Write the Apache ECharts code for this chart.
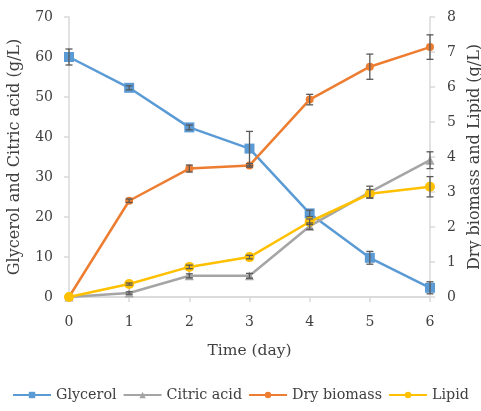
<!DOCTYPE html>
<html>
<head>
<meta charset="utf-8">
<script src="https://cdn.jsdelivr.net/npm/echarts@6/dist/echarts.min.js"></script>
<style>
  html, body { margin: 0; padding: 0; background: #fff; }
  #chart { width: 481px; height: 411px; }
</style>
</head>
<body>
<div id="chart"></div>
<script>
// Fermentation time course: substrate, product, biomass and lipid
const days = ['0', '1', '2', '3', '4', '5', '6'];

// g/L, left axis
const glycerol = [60, 52.3, 42.4, 37.1, 20.9, 9.8, 2.3];
const glycerolErr = [2.0, 0.5, 0.6, 4.3, 0.8, 1.6, 1.5];
const citricAcid = [0, 1.0, 5.3, 5.3, 17.7, 26.2, 34.2];
const citricAcidErr = [0, 0.3, 0.5, 0.6, 0.8, 1.5, 2.1];

// g/L, right axis
const dryBiomass = [0, 2.75, 3.67, 3.76, 5.64, 6.58, 7.14];
const dryBiomassErr = [0, 0.05, 0.1, 0.05, 0.15, 0.36, 0.35];
const lipid = [0, 0.37, 0.86, 1.14, 2.15, 2.95, 3.15];
const lipidErr = [0, 0.03, 0.05, 0.05, 0.08, 0.12, 0.29];

const seriesNames = ['Glycerol', 'Citric acid', 'Dry biomass', 'Lipid'];

const leftTicks = { min: 0, max: 70, interval: 10 };
const rightTicks = { min: 0, max: 8, interval: 1 };

const FONT = '"DejaVu Serif", serif';
const AXIS_GRAY = '#d9d9d9';
const TEXT = '#404040';

function errorSeries(values, errs, yAxisIndex) {
  return {
    type: 'custom',
    yAxisIndex: yAxisIndex,
    z: 5,
    silent: true,
    data: values.map((v, i) => [i, v, errs[i]]),
    renderItem: function (params, api) {
      const i = api.value(0), v = api.value(1), e = api.value(2);
      if (!e) return;
      const top = api.coord([i, v + e]);
      const bot = api.coord([i, v - e]);
      const cap = 3.5;
      const style = { stroke: '#595959', lineWidth: 1.3 };
      return {
        type: 'group',
        children: [
          { type: 'line', shape: { x1: top[0], y1: top[1], x2: bot[0], y2: bot[1] }, style: style },
          { type: 'line', shape: { x1: top[0] - cap, y1: top[1], x2: top[0] + cap, y2: top[1] }, style: style },
          { type: 'line', shape: { x1: bot[0] - cap, y1: bot[1], x2: bot[0] + cap, y2: bot[1] }, style: style }
        ]
      };
    }
  };
}

function lineSeries(name, data, color, symbol, size, yAxisIndex) {
  return {
    name: name,
    type: 'line',
    yAxisIndex: yAxisIndex,
    data: data,
    symbol: symbol,
    symbolSize: size,
    showAllSymbol: true,
    lineStyle: { color: color, width: 2.5 },
    itemStyle: { color: color },
    emphasis: { disabled: true },
    z: 3
  };
}

const chart = echarts.init(document.getElementById('chart'), null, { renderer: 'canvas' });

chart.setOption({
  animation: false,
  backgroundColor: '#fff',
  textStyle: { fontFamily: FONT },
  grid: { left: 69, right: 51, top: 17, bottom: 114, containLabel: false, outerBoundsMode: 'none' },
  legend: {
    bottom: 4,
    left: 'center',
    itemWidth: 38,
    itemHeight: 8,
    itemGap: 6,
    textStyle: { fontFamily: FONT, fontSize: 14.3, color: TEXT },
    data: seriesNames
  },
  xAxis: [
    {
      type: 'category',
      data: days,
      boundaryGap: false,
      name: 'Time (day)',
      nameLocation: 'middle',
      nameGap: 46,
      nameTextStyle: { fontFamily: FONT, fontSize: 15.5, color: TEXT },
      axisLine: { lineStyle: { color: AXIS_GRAY, width: 1.5 } },
      axisTick: { show: true, alignWithLabel: true, length: 5, lineStyle: { color: AXIS_GRAY, width: 1.5 } },
      axisLabel: { fontFamily: FONT, fontSize: 14, color: TEXT, margin: 18 },
      splitLine: { show: false }
    },
    {
      type: 'category',
      data: days,
      boundaryGap: false,
      position: 'top',
      axisLine: { lineStyle: { color: AXIS_GRAY, width: 1.5 } },
      axisTick: { show: false },
      axisLabel: { show: false },
      splitLine: { show: false }
    }
  ],
  yAxis: [
    {
      type: 'value',
      position: 'left',
      min: leftTicks.min,
      max: leftTicks.max,
      interval: leftTicks.interval,
      name: 'Glycerol and Citric acid (g/L)',
      nameLocation: 'middle',
      nameRotate: 90,
      nameGap: 46,
      nameTextStyle: { fontFamily: FONT, fontSize: 16, color: TEXT },
      axisLine: { show: true, lineStyle: { color: AXIS_GRAY, width: 1.5 } },
      axisTick: { show: true, length: 5, lineStyle: { color: AXIS_GRAY, width: 1.5 } },
      axisLabel: { fontFamily: FONT, fontSize: 14, color: TEXT, margin: 16 },
      splitLine: { show: false }
    },
    {
      type: 'value',
      position: 'right',
      min: rightTicks.min,
      max: rightTicks.max,
      interval: rightTicks.interval,
      name: 'Dry biomass and Lipid (g/L)',
      nameLocation: 'middle',
      nameRotate: 90,
      nameGap: 36,
      nameTextStyle: { fontFamily: FONT, fontSize: 16, color: TEXT },
      axisLine: { show: true, lineStyle: { color: AXIS_GRAY, width: 1.5 } },
      axisTick: { show: true, length: 5, lineStyle: { color: AXIS_GRAY, width: 1.5 } },
      axisLabel: { fontFamily: FONT, fontSize: 14, color: TEXT, margin: 17, align: 'left' },
      splitLine: { show: false }
    }
  ],
  series: [
    lineSeries(seriesNames[0], glycerol, '#5b9bd5', 'rect', 10, 0),
    lineSeries(seriesNames[1], citricAcid, '#a5a5a5', 'triangle', 9, 0),
    lineSeries(seriesNames[2], dryBiomass, '#ed7d31', 'circle', 8, 1),
    lineSeries(seriesNames[3], lipid, '#ffc000', 'circle', 10, 1),
    errorSeries(glycerol, glycerolErr, 0),
    errorSeries(citricAcid, citricAcidErr, 0),
    errorSeries(dryBiomass, dryBiomassErr, 1),
    errorSeries(lipid, lipidErr, 1)
  ]
});
</script>
</body>
</html>
